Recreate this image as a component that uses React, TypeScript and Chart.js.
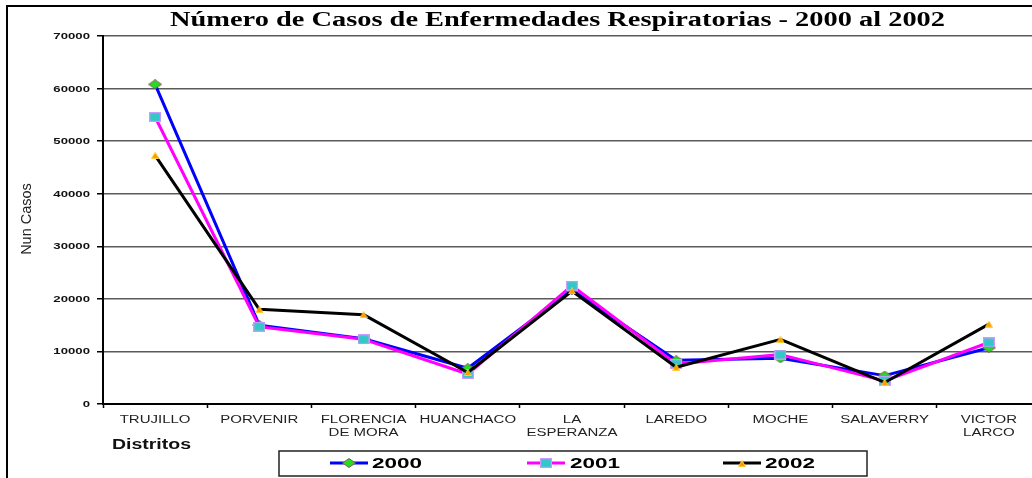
import React, { useEffect, useRef } from "react";
import { Chart, registerables } from "chart.js";

Chart.register(...registerables);

const categories = [
  "TRUJILLO",
  "PORVENIR",
  "FLORENCIA\nDE MORA",
  "HUANCHACO",
  "LA\nESPERANZA",
  "LAREDO",
  "MOCHE",
  "SALAVERRY",
  "VICTOR\nLARCO",
];
const seriesNames = ["2000", "2001", "2002"];
const values2000 = [60800, 15000, 12400, 6800, 21700, 8300, 8700, 5400, 10700];
const values2001 = [54600, 14700, 12300, 5700, 22500, 7600, 9400, 4400, 11700];
const values2002 = [47300, 18000, 17000, 6000, 21500, 7000, 12300, 4100, 15200];
const yMin = 0;
const yMax = 70000;
const yStep = 10000;
const titleText = "Número de Casos de Enfermedades Respiratorias - 2000 al 2002";
const yAxisTitle = "Nun Casos";
const xAxisTitle = "Distritos";

const SANS = "'Liberation Sans', Arial, sans-serif";
const SERIF = "'Liberation Serif', 'Times New Roman', serif";

const CANVAS_W = 1050;
const CANVAS_H = 478;

function makeDiamond(): HTMLCanvasElement {
  const c = document.createElement("canvas");
  c.width = 14;
  c.height = 10;
  const g = c.getContext("2d")!;
  g.beginPath();
  g.moveTo(7, 0.5);
  g.lineTo(13.5, 5);
  g.lineTo(7, 9.5);
  g.lineTo(0.5, 5);
  g.closePath();
  g.fillStyle = "#22dd22";
  g.fill();
  g.strokeStyle = "#8a5a5a";
  g.lineWidth = 1;
  g.stroke();
  return c;
}

function makeSquare(): HTMLCanvasElement {
  const c = document.createElement("canvas");
  c.width = 12;
  c.height = 10;
  const g = c.getContext("2d")!;
  g.fillStyle = "#33c8c8";
  g.fillRect(1, 1, 10, 8);
  g.strokeStyle = "#cc99ff";
  g.lineWidth = 1.2;
  g.strokeRect(0.6, 0.6, 10.8, 8.8);
  return c;
}

function makeTriangle(): HTMLCanvasElement {
  const c = document.createElement("canvas");
  c.width = 8;
  c.height = 7;
  const g = c.getContext("2d")!;
  g.beginPath();
  g.moveTo(4, 0.5);
  g.lineTo(7.5, 6.5);
  g.lineTo(0.5, 6.5);
  g.closePath();
  g.fillStyle = "#ff9900";
  g.fill();
  g.strokeStyle = "#ffcc33";
  g.lineWidth = 1;
  g.stroke();
  return c;
}

function drawFit(
  ctx: CanvasRenderingContext2D,
  text: string,
  left: number,
  baseline: number,
  font: string,
  targetWidth: number,
  color: string
) {
  ctx.save();
  ctx.font = font;
  ctx.fillStyle = color;
  ctx.textAlign = "left";
  ctx.textBaseline = "alphabetic";
  const w = ctx.measureText(text).width;
  ctx.translate(left, baseline);
  ctx.scale(targetWidth / w, 1);
  ctx.fillText(text, 0, 0);
  ctx.restore();
}

function drawScaled(
  ctx: CanvasRenderingContext2D,
  text: string,
  x: number,
  baseline: number,
  font: string,
  sx: number,
  align: "left" | "center" | "right",
  color: string
) {
  ctx.save();
  ctx.font = font;
  ctx.fillStyle = color;
  ctx.textAlign = "left";
  ctx.textBaseline = "alphabetic";
  const w = ctx.measureText(text).width * sx;
  const left = align === "center" ? x - w / 2 : align === "right" ? x - w : x;
  ctx.translate(left, baseline);
  ctx.scale(sx, 1);
  ctx.fillText(text, 0, 0);
  ctx.restore();
}

export default function App() {
  const canvasRef = useRef<HTMLCanvasElement | null>(null);

  useEffect(() => {
    if (!canvasRef.current) return;
    const diamond = makeDiamond();
    const square = makeSquare();
    const triangle = makeTriangle();
    const markers = [diamond, square, triangle];
    const lineColors = ["#0000ff", "#ff00ff", "#000000"];

    const decorations = {
      id: "decorations",
      afterDraw(chart: any) {
        const ctx: CanvasRenderingContext2D = chart.ctx;
        const xs = chart.scales.x;
        const ys = chart.scales.y;

        // outer frame
        ctx.save();
        ctx.strokeStyle = "#000";
        ctx.lineWidth = 2;
        ctx.beginPath();
        ctx.moveTo(CANVAS_W, 6);
        ctx.lineTo(7, 6);
        ctx.lineTo(7, CANVAS_H);
        ctx.stroke();
        ctx.restore();

        // title
        drawFit(ctx, titleText, 170, 26, `bold 20px ${SERIF}`, 775, "#000");

        // y axis title
        ctx.save();
        ctx.font = `14.5px ${SANS}`;
        ctx.fillStyle = "#222";
        ctx.textAlign = "center";
        ctx.textBaseline = "middle";
        ctx.translate(27, 219);
        ctx.rotate(-Math.PI / 2);
        ctx.fillText(yAxisTitle, 0, 0);
        ctx.restore();

        // y tick labels
        ys.ticks.forEach((t: any) => {
          const y = ys.getPixelForValue(t.value);
          drawScaled(ctx, String(t.value), 90, y + 3, `bold 8.5px ${SANS}`, 1.55, "right", "#111");
        });

        // x tick labels
        categories.forEach((label, i) => {
          const x = xs.getPixelForValue(i);
          const lines = label.split("\n");
          lines.forEach((ln, j) => {
            drawScaled(ctx, ln, x, 423 + j * 13, `10px ${SANS}`, 1.5, "center", "#222");
          });
        });

        // x axis title
        drawFit(ctx, xAxisTitle, 112, 449, `bold 14px ${SANS}`, 79, "#111");

        // legend box
        ctx.save();
        ctx.strokeStyle = "#222";
        ctx.lineWidth = 1.5;
        ctx.strokeRect(279, 451, 588, 25);
        ctx.restore();

        const itemStarts = [330, 527, 723];
        const textStarts = [372, 570, 765];
        seriesNames.forEach((name, i) => {
          const x0 = itemStarts[i];
          ctx.save();
          ctx.strokeStyle = lineColors[i];
          ctx.lineWidth = 3;
          ctx.beginPath();
          ctx.moveTo(x0, 463);
          ctx.lineTo(x0 + 38, 463);
          ctx.stroke();
          const m = markers[i];
          ctx.drawImage(m, Math.round(x0 + 19 - m.width / 2), Math.round(463 - m.height / 2));
          ctx.restore();
          drawFit(ctx, name, textStarts[i], 468, `bold 14px ${SANS}`, 50, "#000");
        });
      },
    };

    const chart = new Chart(canvasRef.current, {
      type: "line",
      data: {
        labels: categories,
        datasets: [
          {
            label: seriesNames[0],
            data: values2000,
            borderColor: lineColors[0],
            backgroundColor: lineColors[0],
            borderWidth: 3,
            pointStyle: diamond,
            order: 3,
            tension: 0,
          },
          {
            label: seriesNames[1],
            data: values2001,
            borderColor: lineColors[1],
            backgroundColor: lineColors[1],
            borderWidth: 3,
            pointStyle: square,
            order: 2,
            tension: 0,
          },
          {
            label: seriesNames[2],
            data: values2002,
            borderColor: lineColors[2],
            backgroundColor: lineColors[2],
            borderWidth: 3,
            pointStyle: triangle,
            order: 1,
            tension: 0,
          },
        ],
      },
      options: {
        responsive: false,
        animation: false,
        devicePixelRatio: 1,
        layout: { padding: { top: 36, right: CANVAS_W - 1041, bottom: 0, left: 0 } },
        plugins: {
          legend: { display: false },
          title: { display: false },
          tooltip: { enabled: false },
        },
        elements: { point: { radius: 5 }, line: { borderJoinStyle: "round" } },
        scales: {
          x: {
            type: "category",
            offset: true,
            grid: {
              offset: true,
              drawOnChartArea: false,
              drawTicks: true,
              tickLength: 4,
              tickColor: "#000",
              tickWidth: 1.5,
            },
            border: { color: "#000", width: 2 },
            ticks: { display: false },
            afterFit: (s: any) => {
              s.height = 74;
            },
          },
          y: {
            min: yMin,
            max: yMax,
            ticks: { stepSize: yStep, display: false },
            grid: {
              color: "#5a5a5a",
              lineWidth: 1.5,
              tickLength: 6,
              tickColor: "#000",
              tickWidth: 1.5,
            },
            border: { color: "#000", width: 2 },
            afterFit: (s: any) => {
              s.width = 103;
            },
          },
        },
      },
      plugins: [decorations],
    } as any);

    return () => chart.destroy();
  }, []);

  return (
    <div
      style={{
        position: "fixed",
        left: 0,
        top: 0,
        width: 1032,
        height: 478,
        overflow: "hidden",
        background: "#fff",
      }}
    >
      <canvas ref={canvasRef} width={CANVAS_W} height={CANVAS_H} style={{ display: "block" }} />
    </div>
  );
}
